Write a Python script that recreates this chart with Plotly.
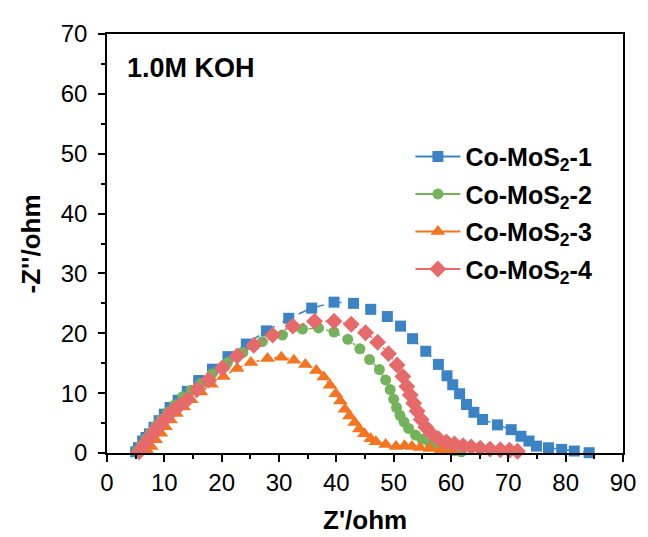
import plotly.graph_objects as go

# ---------------- data ----------------
names = ["Co-MoS<sub>2</sub>-1", "Co-MoS<sub>2</sub>-2", "Co-MoS<sub>2</sub>-3", "Co-MoS<sub>2</sub>-4"]

x1 = [5.0, 5.5, 6.2, 6.8, 7.4, 8.2, 9.1, 10.0, 11.0, 12.4, 14.0, 16.0, 18.4, 21.1, 24.3, 27.8,
      31.7, 35.7, 39.6, 43.0, 46.0, 48.9, 51.2, 53.3, 55.6, 57.8, 59.3, 60.3, 61.5, 62.7, 64.0,
      65.5, 68.1, 70.5, 72.2, 73.6, 74.9, 77.0, 79.3, 81.5, 84.1]
y1 = [0.2, 0.9, 2.0, 2.6, 3.2, 4.3, 5.4, 6.5, 7.6, 8.8, 10.3, 12.1, 14.0, 16.1, 18.2, 20.4,
      22.5, 24.2, 25.2, 25.0, 24.0, 22.8, 21.2, 19.1, 17.0, 14.8, 12.9, 11.4, 9.9, 8.1, 6.8,
      5.6, 4.7, 3.9, 2.8, 2.0, 1.15, 0.87, 0.6, 0.33, 0.05]

x2 = [5.3, 6.0, 6.8, 7.6, 8.5, 9.5, 10.6, 11.8, 13.2, 14.7, 16.3, 18.3, 21.0, 23.7, 27.1, 30.6,
      34.1, 36.9, 39.6, 42.0, 44.1, 45.8, 47.5, 48.6, 49.4, 50.0, 50.5, 51.1, 51.8, 52.6, 53.8,
      54.9, 56.3, 57.8, 59.2, 60.6, 61.8]
y2 = [0.3, 1.3, 2.4, 3.4, 4.5, 5.6, 6.8, 8.0, 9.4, 10.5, 11.6, 13.2, 15.1, 16.8, 18.6, 19.7,
      20.7, 20.9, 20.2, 19.0, 17.4, 15.6, 13.95, 12.2, 10.6, 9.0, 7.6, 6.3, 5.2, 4.1, 3.0,
      2.3, 1.6, 1.0, 0.65, 0.4, 0.2]

x3 = [7.1, 7.7, 8.5, 9.4, 10.2, 11.1, 12.1, 13.4, 14.7, 16.4, 18.2, 20.3, 22.7, 25.1, 28.0,
      30.4, 32.6, 34.6, 36.5, 37.8, 38.9, 39.9, 40.7, 41.5, 42.3, 43.2, 44.0, 44.9, 46.0, 46.9,
      48.6, 50.4, 51.9, 53.2, 54.6, 56.3, 58.3, 60.3]
y3 = [0.3, 1.1, 2.2, 3.3, 4.4, 5.5, 6.6, 7.7, 8.9, 10.2, 11.5, 12.8, 14.1, 15.1, 15.8,
      16.0, 15.5, 14.8, 13.8, 12.7, 11.3, 9.9, 8.7, 7.3, 6.2, 5.1, 4.0, 3.2, 2.4, 1.9,
      1.4, 1.1, 1.2, 1.1, 0.9, 0.75, 0.5, 0.3]

x4 = [5.6, 6.2, 6.9, 7.6, 8.4, 9.3, 10.3, 11.4, 12.6, 14.0, 15.7, 17.7, 20.1, 22.7, 25.6, 28.9,
      32.4, 36.2, 39.6, 42.6, 45.1, 47.2, 49.1, 50.6, 51.6, 52.3, 52.9, 53.5, 54.1, 54.8, 55.6,
      56.6, 57.8, 59.2, 60.6, 62.1, 63.5, 65.1, 66.8, 68.6, 70.2, 71.6]
y4 = [0.2, 1.0, 1.9, 2.8, 3.8, 4.8, 5.9, 7.0, 7.9, 8.9, 10.6, 12.2, 14.2, 16.2, 18.0, 19.7,
      21.2, 22.0, 22.0, 21.5, 20.1, 18.5, 16.6, 14.7, 12.8, 11.1, 9.7, 8.3, 7.0, 5.6, 4.3,
      3.2, 2.4, 1.85, 1.5, 1.2, 1.0, 0.8, 0.65, 0.55, 0.45, 0.3]

xs = [x1, x2, x3, x4]
ys = [y1, y2, y3, y4]

colors = ["#3C83C6", "#74B35C", "#F37521", "#E66A6A"]
symbols = ["square", "circle", "triangle-up", "diamond"]
sizes = [11, 11, 13, 13]
dashes = ["dash", "dashdot", "dot", "dashdot"]

FONT = "Liberation Sans, Arial, sans-serif"

fig = go.Figure()

for i in range(4):
    fig.add_trace(go.Scatter(
        x=xs[i], y=ys[i], mode="lines+markers",
        line=dict(color=colors[i], width=1.5, dash=dashes[i]),
        marker=dict(symbol=symbols[i], size=sizes[i], color=colors[i], line=dict(width=0)),
        showlegend=False, cliponaxis=False,
    ))

# legend-only entries (solid line, as in the reference legend)
for i in range(4):
    fig.add_trace(go.Scatter(
        x=[None], y=[None], mode="lines+markers", name="<b>" + names[i] + "</b>",
        line=dict(color=colors[i], width=2),
        marker=dict(symbol=symbols[i], size=sizes[i], color=colors[i], line=dict(width=0)),
        legendgroup="g%d" % i,
    ))

axis_common = dict(
    showline=True, linecolor="black", linewidth=1.5, mirror=True,
    ticks="outside", ticklen=7, tickwidth=1.5, tickcolor="black",
    tickfont=dict(family=FONT, size=24, color="black"),
    showgrid=False, zeroline=False, dtick=10,
    minor=dict(ticks="outside", ticklen=4, tickwidth=1.5, tickcolor="black", dtick=5, showgrid=False),
)

fig.update_xaxes(range=[0, 90], tick0=0, **axis_common)
fig.update_yaxes(range=[0, 70], tick0=0, ticklabelstandoff=6, **axis_common)

# the page body adds an 8px offset, so the figure is drawn from (8, 8)
fig.update_layout(
    width=640, height=529,
    margin=dict(l=99, r=17, t=17, b=84),
    plot_bgcolor="white", paper_bgcolor="white",
    font=dict(family=FONT, color="black"),
    legend=dict(
        x=0.588, y=0.762, xanchor="left", yanchor="top",
        bgcolor="rgba(0,0,0,0)", font=dict(family=FONT, size=25, color="black"),
        tracegroupgap=2, itemwidth=45,
    ),
    annotations=[
        dict(text="<b>1.0M KOH</b>", x=0.034, y=0.918, xref="paper", yref="paper",
             xanchor="left", yanchor="middle", showarrow=False,
             font=dict(family=FONT, size=27, color="black")),
        dict(text="<b>Z'/ohm</b>", x=0.5, y=-0.161, xref="paper", yref="paper",
             xanchor="center", yanchor="middle", showarrow=False,
             font=dict(family=FONT, size=26, color="black")),
        dict(text="<b>-Z''/ohm</b>", x=-0.147, y=0.498, xref="paper", yref="paper",
             xanchor="center", yanchor="middle", showarrow=False, textangle=-90,
             font=dict(family=FONT, size=26, color="black")),
    ],
)

fig.write_html("out.html")
